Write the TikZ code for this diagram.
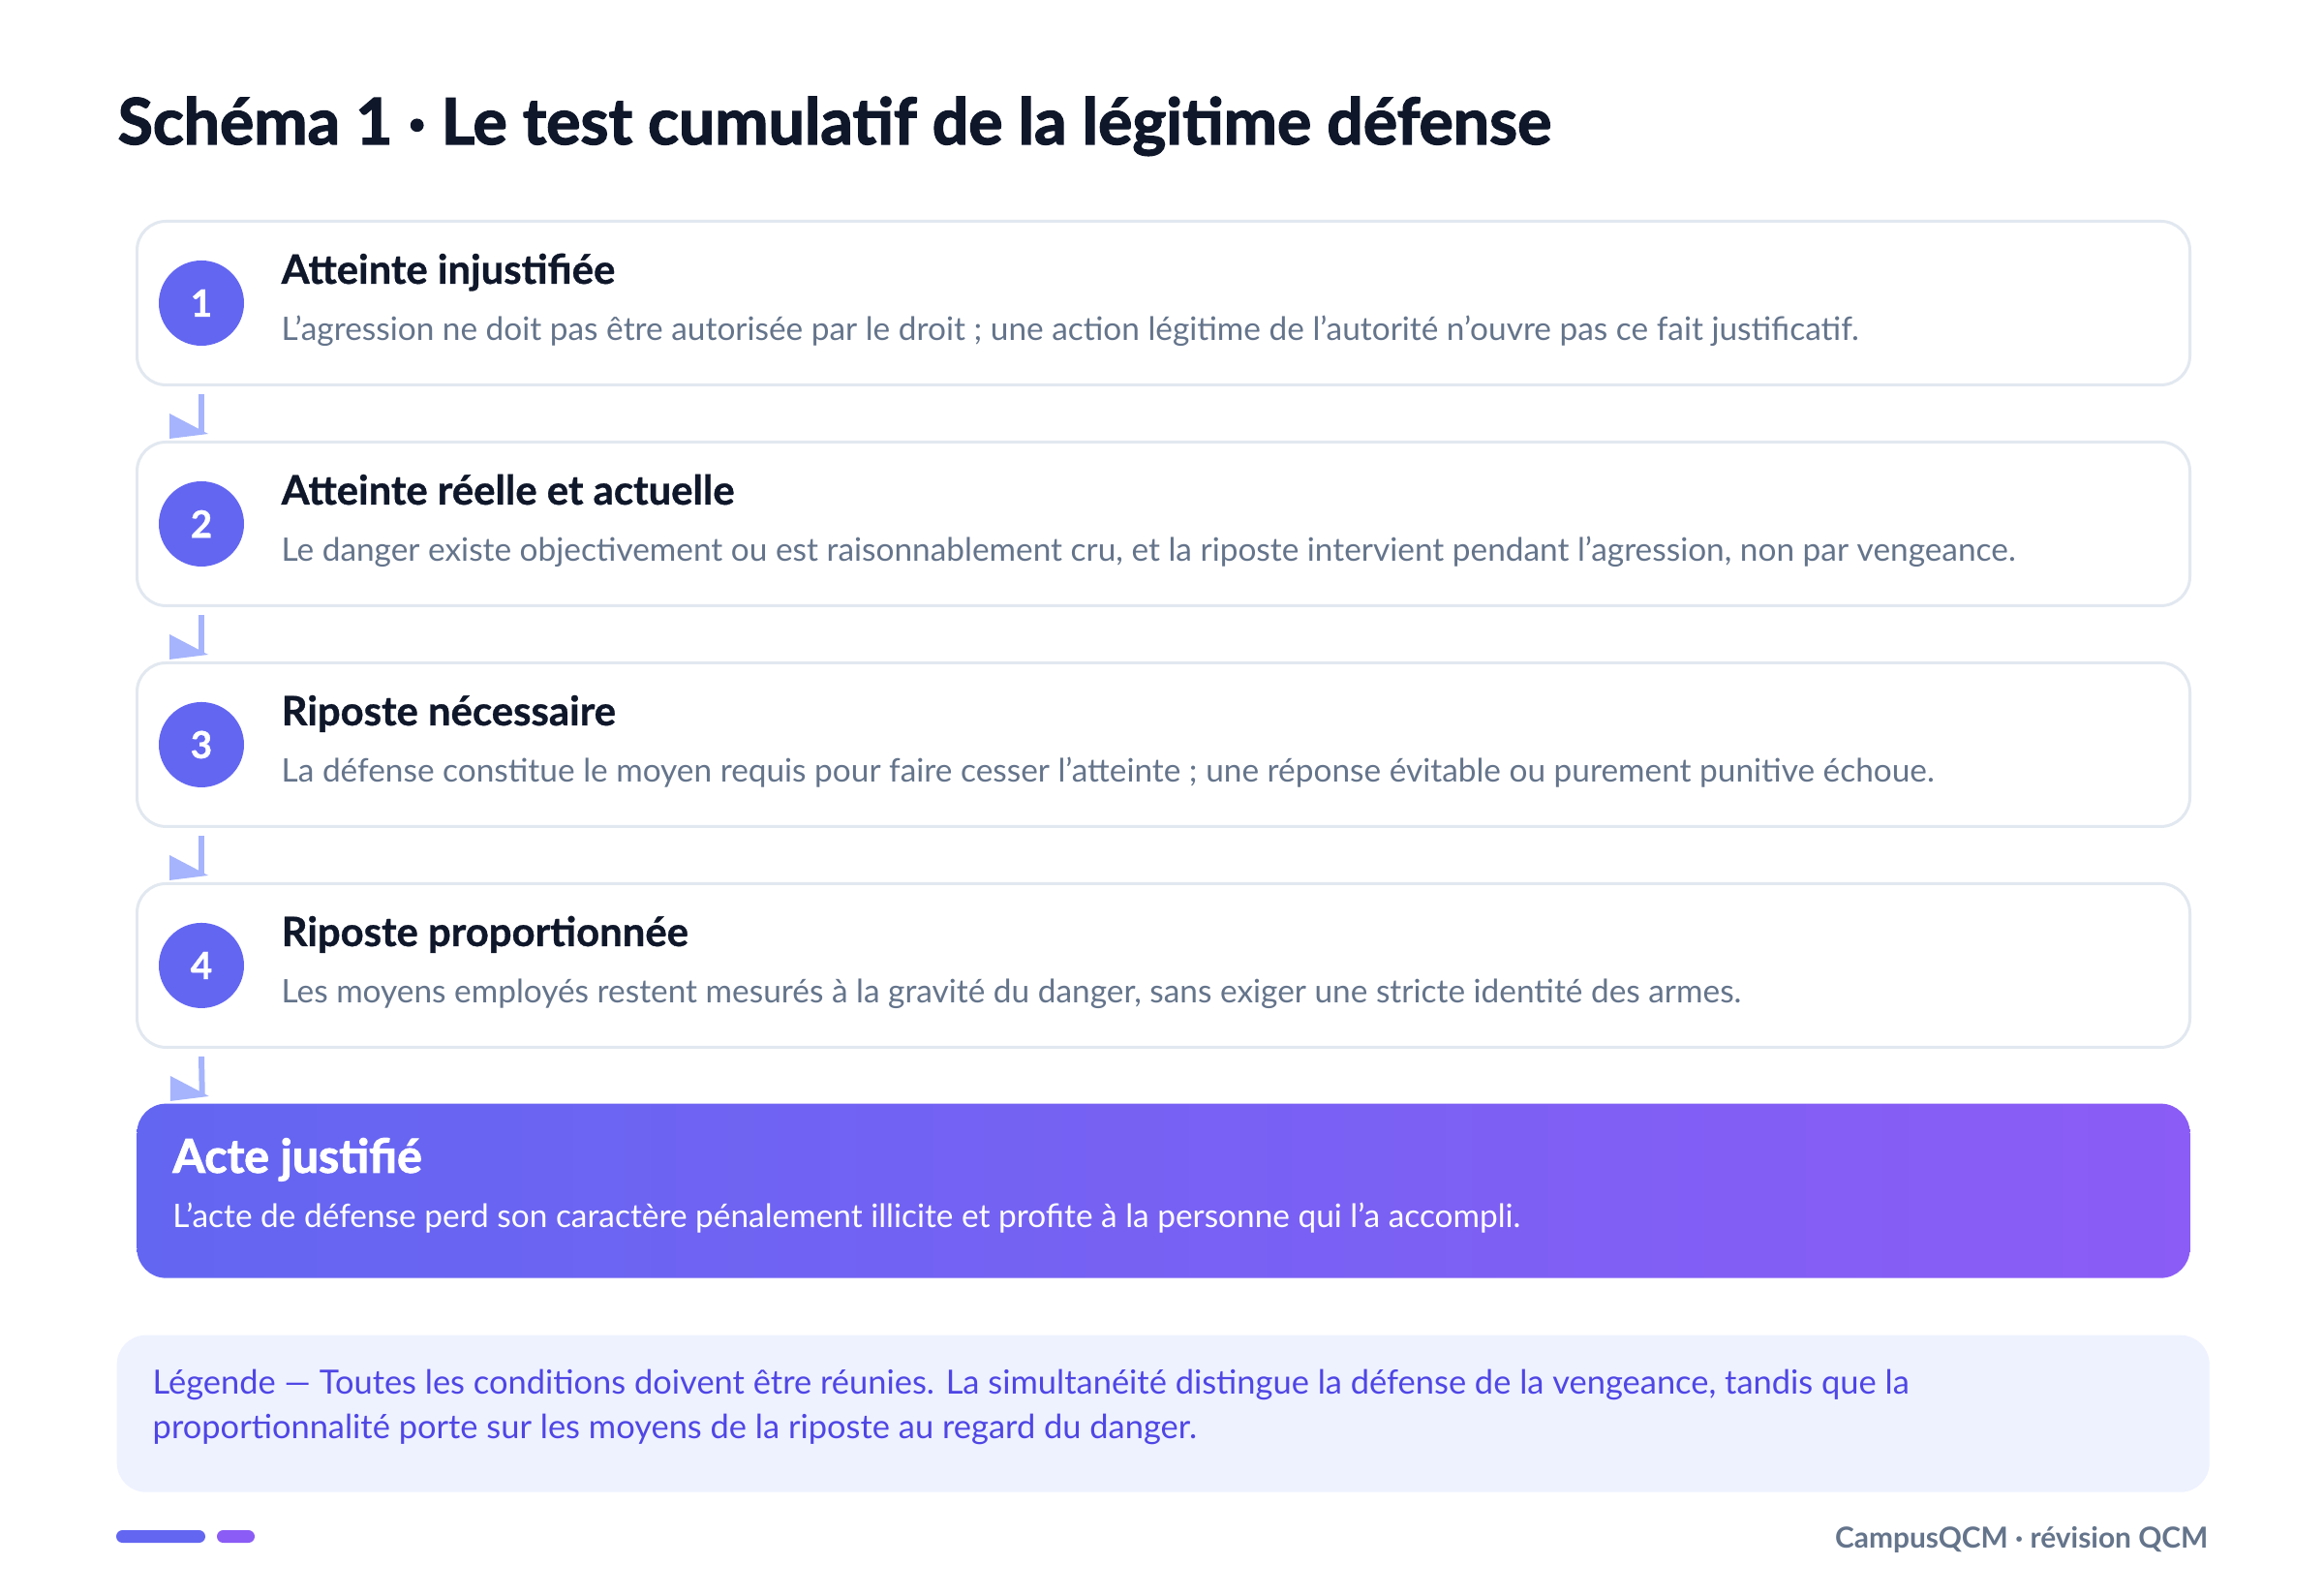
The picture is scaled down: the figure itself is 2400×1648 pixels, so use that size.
\documentclass[tikz,border=0pt]{standalone}
\usepackage{fontspec}
\setmainfont{Lato}
\newfontfamily\heavyfont{Lato Bold}[FakeBold=2]
\newfontfamily\strongfont{Lato Bold}[FakeBold=0.8]
\usetikzlibrary{positioning}

\definecolor{indigo}{HTML}{6366F1}
\definecolor{violet}{HTML}{8B5CF6}
\definecolor{arrowc}{HTML}{A5B4FC}
\definecolor{edge}{HTML}{E2E8F0}
\definecolor{slate}{HTML}{64748B}
\definecolor{ink}{HTML}{0F172A}
\definecolor{legbg}{HTML}{EEF2FF}
\definecolor{legtext}{HTML}{4F46E5}

\begin{document}
\begin{tikzpicture}[
  x=0.1mm, y=-0.1mm,
  node distance = 0.56cm,
  stepbox/.style = {
    rectangle,
    draw=edge,
    line width=0.85pt,
    fill=white,
    rounded corners=0.3cm,
    minimum width=21.2cm,
    minimum height=1.69cm,
    inner sep=0pt
  },
  num/.style = {circle, fill=indigo, minimum size=0.88cm, inner sep=0pt,
    text=white, font=\strongfont\fontsize{11}{13}\selectfont},
  stitle/.style = {anchor=base west, inner sep=0pt, text=ink,
    font=\strongfont\fontsize{11.9}{13}\selectfont},
  sdesc/.style = {anchor=base west, inner sep=0pt, text=slate,
    font=\fontsize{9.5}{11}\selectfont},
  flow/.style = {draw=arrowc, line width=1.7pt},
  ]
  \useasboundingbox (0,0) rectangle (2400,1648);
  \fill[white] (0,0) rectangle (2400,1648);

  \node[anchor=base west, inner sep=0pt, text=ink,
    font=\heavyfont\fontsize{18.8}{22}\selectfont] (title) at (121,149)
    {Schéma 1 · Le test cumulatif de la légitime défense};

  % the four conditions
  \node[stepbox, anchor=north west] (s1) at (140,227) {};
  \node[stepbox, below=of s1] (s2) {};
  \node[stepbox, below=of s2] (s3) {};
  \node[stepbox, below=of s3] (s4) {};

  \foreach \s/\n/\t/\d in {
    s1/1/Atteinte injustifiée/{L'agression ne doit pas être autorisée par le droit ; une action légitime de l'autorité n'ouvre pas ce fait justificatif.},
    s2/2/Atteinte réelle et actuelle/{Le danger existe objectivement ou est raisonnablement cru, et la riposte intervient pendant l'agression, non par vengeance.},
    s3/3/Riposte nécessaire/{La défense constitue le moyen requis pour faire cesser l'atteinte ; une réponse évitable ou purement punitive échoue.},
    s4/4/Riposte proportionnée/{Les moyens employés restent mesurés à la gravité du danger, sans exiger une stricte identité des armes.}} {
    \node[num] (\s num) at ([xshift=0.68cm]\s.west) {\n};
    \node[stitle] (\s title) at ([xshift=1.5cm, yshift=-0.66cm]\s.north west) {\t};
    \node[sdesc] (\s desc) at ([xshift=1.5cm, yshift=-1.25cm]\s.north west) {\d};
  }

  % outcome
  \node[rectangle, below=0.56cm of s4,
    minimum width=21.2cm, minimum height=1.8cm, inner sep=0pt,
    rounded corners=0.3cm, left color=indigo, right color=violet] (fin) {};
  \node[anchor=base west, inner sep=0pt, text=white,
    font=\heavyfont\fontsize{13.7}{15}\selectfont] (fintitle)
    at ([xshift=0.37cm, yshift=-0.72cm]fin.north west) {Acte justifié};
  \node[anchor=base west, inner sep=0pt, text=white,
    font=\fontsize{9.5}{11}\selectfont] (findesc)
    at ([xshift=0.37cm, yshift=-1.29cm]fin.north west)
    {L'acte de défense perd son caractère pénalement illicite et profite à la personne qui l'a accompli.};

  % connectors
  \foreach \a/\b in {s1/s2, s2/s3, s3/s4, s4/fin} {
    \draw[flow] ([xshift=0.68cm, yshift=-0.08cm]\a.south west)
      -- ([xshift=0.68cm, yshift=0.07cm]\b.north west);
    \fill[arrowc] ([xshift=0.35cm, yshift=0.28cm]\b.north west)
      -- ([xshift=0.75cm, yshift=0.07cm]\b.north west)
      -- ([xshift=0.35cm, yshift=0.02cm]\b.north west) -- cycle;
  }

  % legend
  \node[rectangle, anchor=north west, fill=legbg, rounded corners=0.3cm,
    minimum width=21.61cm, minimum height=1.62cm, inner sep=0pt] (legend)
    at (120,1378) {};
  \node[anchor=base west, inner sep=0pt, text=legtext, align=left,
    font=\fontsize{9.8}{13}\selectfont] (legendtext)
    at ([xshift=0.37cm, yshift=-1.07cm]legend.north west)
    {Légende — Toutes les conditions doivent être réunies. La simultanéité distingue la défense de la vengeance, tandis que la\\
     proportionnalité porte sur les moyens de la riposte au regard du danger.};

  % footer
  \fill[indigo, rounded corners=0.065cm] (120,1580) rectangle (212,1593);
  \fill[violet, rounded corners=0.065cm] (224,1580) rectangle (263,1593);
  \node[anchor=base east, inner sep=0pt, text=slate,
    font=\bfseries\fontsize{8.5}{10}\selectfont] (brand) at (2281,1598)
    {CampusQCM · révision QCM};
\end{tikzpicture}
\end{document}
